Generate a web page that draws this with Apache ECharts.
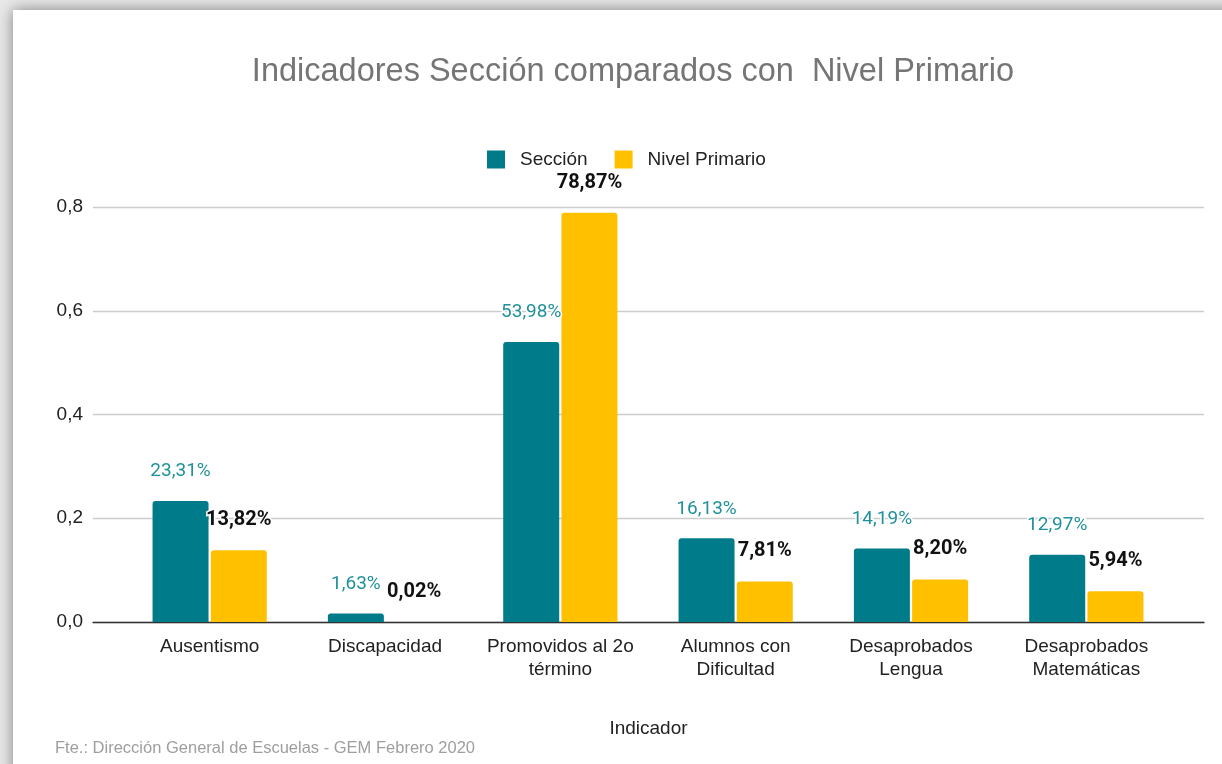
<!DOCTYPE html>
<html>
<head>
<meta charset="utf-8">
<script src="https://cdn.jsdelivr.net/npm/echarts@6/dist/echarts.min.js"></script>
<style>
  html, body { margin: 0; padding: 0; background: #e8e8e8; overflow: hidden; }
  #card { position: absolute; left: 13px; top: 10px; width: 1240px; height: 800px; background: #fff;
          box-shadow: 0 0 14px rgba(0, 0, 0, 0.45); }
  #main { position: absolute; left: 0; top: 0; width: 1222px; height: 764px; }
</style>
</head>
<body>
<div id="card"></div>
<div id="main"></div>
<script>
var categorias = [
  "Ausentismo",
  "Discapacidad",
  "Promovidos al 2o\ntérmino",
  "Alumnos con\nDificultad",
  "Desaprobados\nLengua",
  "Desaprobados\nMatemáticas"
];
var seccion = [0.2331, 0.0163, 0.5398, 0.1613, 0.1419, 0.1297];
var nivelPrimario = [0.1382, 0.0002, 0.7887, 0.0781, 0.082, 0.0594];
var yTicks = [0, 0.2, 0.4, 0.6, 0.8];

var chartDom = document.getElementById("main");
var myChart = echarts.init(chartDom);

var pct = function (v) {
  return (v * 100).toFixed(2).replace(".", ",") + "%";
};

var option = {
  animation: false,
  backgroundColor: "transparent",
  title: [
    {
      text: "Indicadores Sección comparados con  Nivel Primario",
      left: 628,
      top: 51,
      textAlign: "center",
      textStyle: {
        fontFamily: "Liberation Sans, Arial",
        fontSize: 32.5,
        fontWeight: "normal",
        color: "#757575"
      }
    },
    {
      text: "Fte.: Dirección General de Escuelas - GEM Febrero 2020",
      left: 50,
      top: 735,
      textStyle: {
        fontFamily: "Liberation Sans, Arial",
        fontSize: 16.5,
        fontWeight: "normal",
        color: "#9e9e9e"
      }
    }
  ],
  legend: {
    left: 482,
    top: 145,
    itemWidth: 18,
    itemHeight: 18,
    itemGap: 27,
    icon: "rect",
    data: ["Sección", "Nivel Primario"],
    textStyle: {
      fontFamily: "Liberation Sans, Arial",
      fontSize: 19,
      color: "#222",
      padding: [0, 0, 0, 10]
    }
  },
  grid: [
    { left: 93, right: 18, top: 207, bottom: 142 },
    { left: 122, right: 48, top: 207, bottom: 142 }
  ],
  xAxis: [
    {
      type: "category",
      gridIndex: 0,
      data: categorias,
      axisLine: { show: true, lineStyle: { color: "#333", width: 1.3 } },
      axisTick: { show: false },
      axisLabel: { show: false },
      name: "Indicador",
      nameLocation: "middle",
      nameGap: 97,
      nameTextStyle: {
        fontFamily: "Liberation Sans, Arial",
        fontSize: 19,
        color: "#222"
      }
    },
    {
      type: "category",
      gridIndex: 1,
      data: categorias,
      axisLine: { show: false },
      axisTick: { show: false },
      axisLabel: {
        margin: 13,
        fontFamily: "Liberation Sans, Arial",
        fontSize: 19,
        lineHeight: 23,
        color: "#222",
        interval: 0
      }
    }
  ],
  yAxis: [
    {
      type: "value",
      gridIndex: 0,
      min: yTicks[0],
      max: yTicks[yTicks.length - 1],
      interval: 0.2,
      axisLine: { show: false },
      axisTick: { show: false },
      splitLine: { lineStyle: { color: "#cccccc", width: 1.3 } },
      axisLabel: {
        margin: 10,
        fontFamily: "Liberation Sans, Arial",
        fontSize: 19,
        color: "#222",
        formatter: function (v) {
          return v.toFixed(1).replace(".", ",");
        }
      }
    },
    {
      type: "value",
      gridIndex: 1,
      min: yTicks[0],
      max: yTicks[yTicks.length - 1],
      interval: 0.2,
      show: false,
      splitLine: { show: false }
    }
  ],
  series: [
    {
      name: "Sección",
      type: "bar",
      xAxisIndex: 1,
      yAxisIndex: 1,
      data: seccion,
      barWidth: 56,
      barGap: "4%",
      itemStyle: { color: "#007b8a", borderRadius: [3, 3, 0, 0] },
      label: {
        show: true,
        position: "top",
        distance: 20,
        fontFamily: "Roboto",
        fontSize: 19,
        color: "#20919a",
        textBorderColor: "#fff",
        textBorderWidth: 3,
        formatter: function (p) {
          return pct(p.value);
        }
      }
    },
    {
      name: "Nivel Primario",
      type: "bar",
      xAxisIndex: 1,
      yAxisIndex: 1,
      data: nivelPrimario,
      barWidth: 56,
      itemStyle: { color: "#ffc000", borderRadius: [3, 3, 0, 0] },
      label: {
        show: true,
        position: "top",
        distance: 20,
        fontFamily: "Roboto",
        fontSize: 20,
        fontWeight: "bold",
        color: "#111",
        textBorderColor: "#fff",
        textBorderWidth: 3,
        formatter: function (p) {
          return pct(p.value);
        }
      }
    }
  ]
};

option && myChart.setOption(option);
</script>
</body>
</html>
